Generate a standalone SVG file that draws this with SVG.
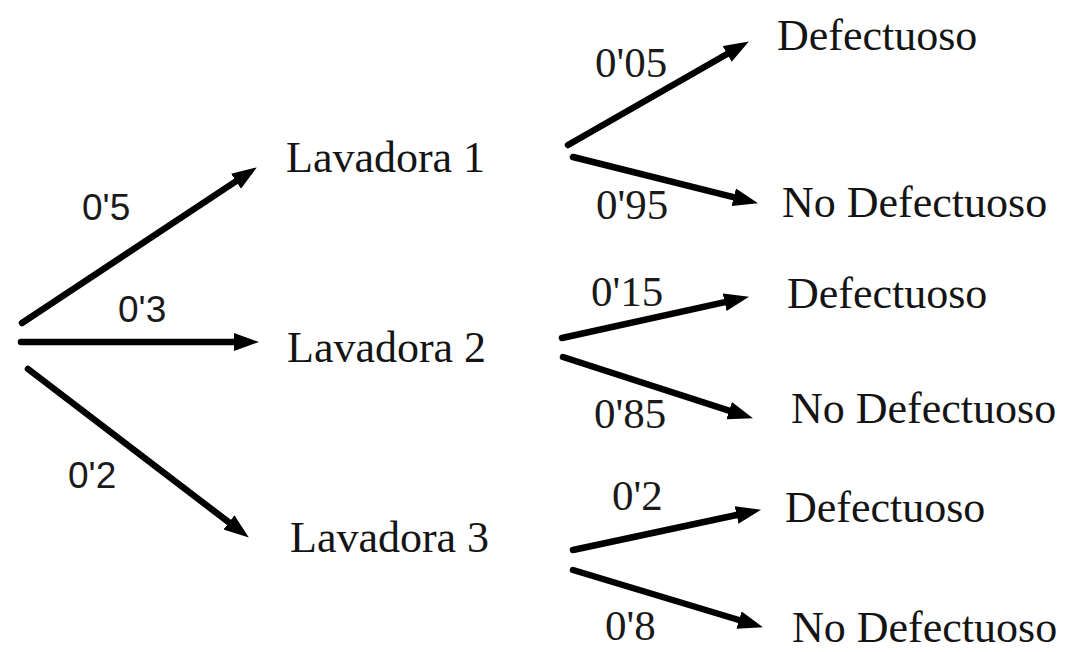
<svg xmlns="http://www.w3.org/2000/svg" width="1068" height="652" viewBox="0 0 1068 652">
  <style>
    .node { font-family: "Liberation Serif", "Times New Roman", serif; font-size: 44px; fill: #141414; }
    .p1 { font-family: "Liberation Sans", Arial, sans-serif; font-size: 37px; fill: #1a1a1a; }
    .p2 { font-family: "Liberation Serif", "Times New Roman", serif; font-size: 43px; fill: #1a1a1a; }
    .edge { stroke: #000; stroke-width: 6.5; fill: none; stroke-linecap: round; marker-end: url(#head); }
  </style>
  <defs>
    <marker id="head" markerUnits="userSpaceOnUse" markerWidth="28" markerHeight="20" refX="12" refY="9" orient="auto">
      <path d="M0,0 L25,9 L0,18 z" fill="#000"/>
    </marker>
  </defs>
  <rect width="1068" height="652" fill="#fff"/>

  <!-- branches -->
  <g id="connectors">
    <line class="edge" x1="22" y1="323" x2="246" y2="174.6"/>
    <line class="edge" x1="21" y1="342" x2="246" y2="342"/>
    <line class="edge" x1="28" y1="369" x2="238.5" y2="529.7"/>
    <line class="edge" x1="568" y1="145" x2="737.6" y2="48"/>
    <line class="edge" x1="573" y1="157" x2="745.4" y2="200.1"/>
    <line class="edge" x1="562" y1="338" x2="736.3" y2="299.6"/>
    <line class="edge" x1="563" y1="357" x2="740.6" y2="414.3"/>
    <line class="edge" x1="573" y1="550" x2="748.3" y2="512.5"/>
    <line class="edge" x1="573" y1="570" x2="750.5" y2="623.5"/>
  </g>

  <!-- branch probabilities -->
  <g id="probabilities">
    <text class="p1" x="82" y="220">0'5</text>
    <text class="p1" x="118" y="322">0'3</text>
    <text class="p1" x="68" y="488">0'2</text>
    <text class="p2" x="595" y="77">0'05</text>
    <text class="p2" x="596" y="219">0'95</text>
    <text class="p2" x="591" y="306">0'15</text>
    <text class="p2" x="594" y="428">0'85</text>
    <text class="p2" x="612" y="510">0'2</text>
    <text class="p2" x="605" y="640">0'8</text>
  </g>

  <g id="lavadora1"><text class="node" x="286" y="172">Lavadora 1</text></g>
  <g id="lavadora2"><text class="node" x="287" y="362">Lavadora 2</text></g>
  <g id="lavadora3"><text class="node" x="290" y="552">Lavadora 3</text></g>

  <g id="l1-defectuoso"><text class="node" x="777" y="50">Defectuoso</text></g>
  <g id="l1-no-defectuoso"><text class="node" x="782" y="217">No Defectuoso</text></g>
  <g id="l2-defectuoso"><text class="node" x="787" y="308">Defectuoso</text></g>
  <g id="l2-no-defectuoso"><text class="node" x="791" y="423">No Defectuoso</text></g>
  <g id="l3-defectuoso"><text class="node" x="785" y="522">Defectuoso</text></g>
  <g id="l3-no-defectuoso"><text class="node" x="792" y="642">No Defectuoso</text></g>
</svg>
